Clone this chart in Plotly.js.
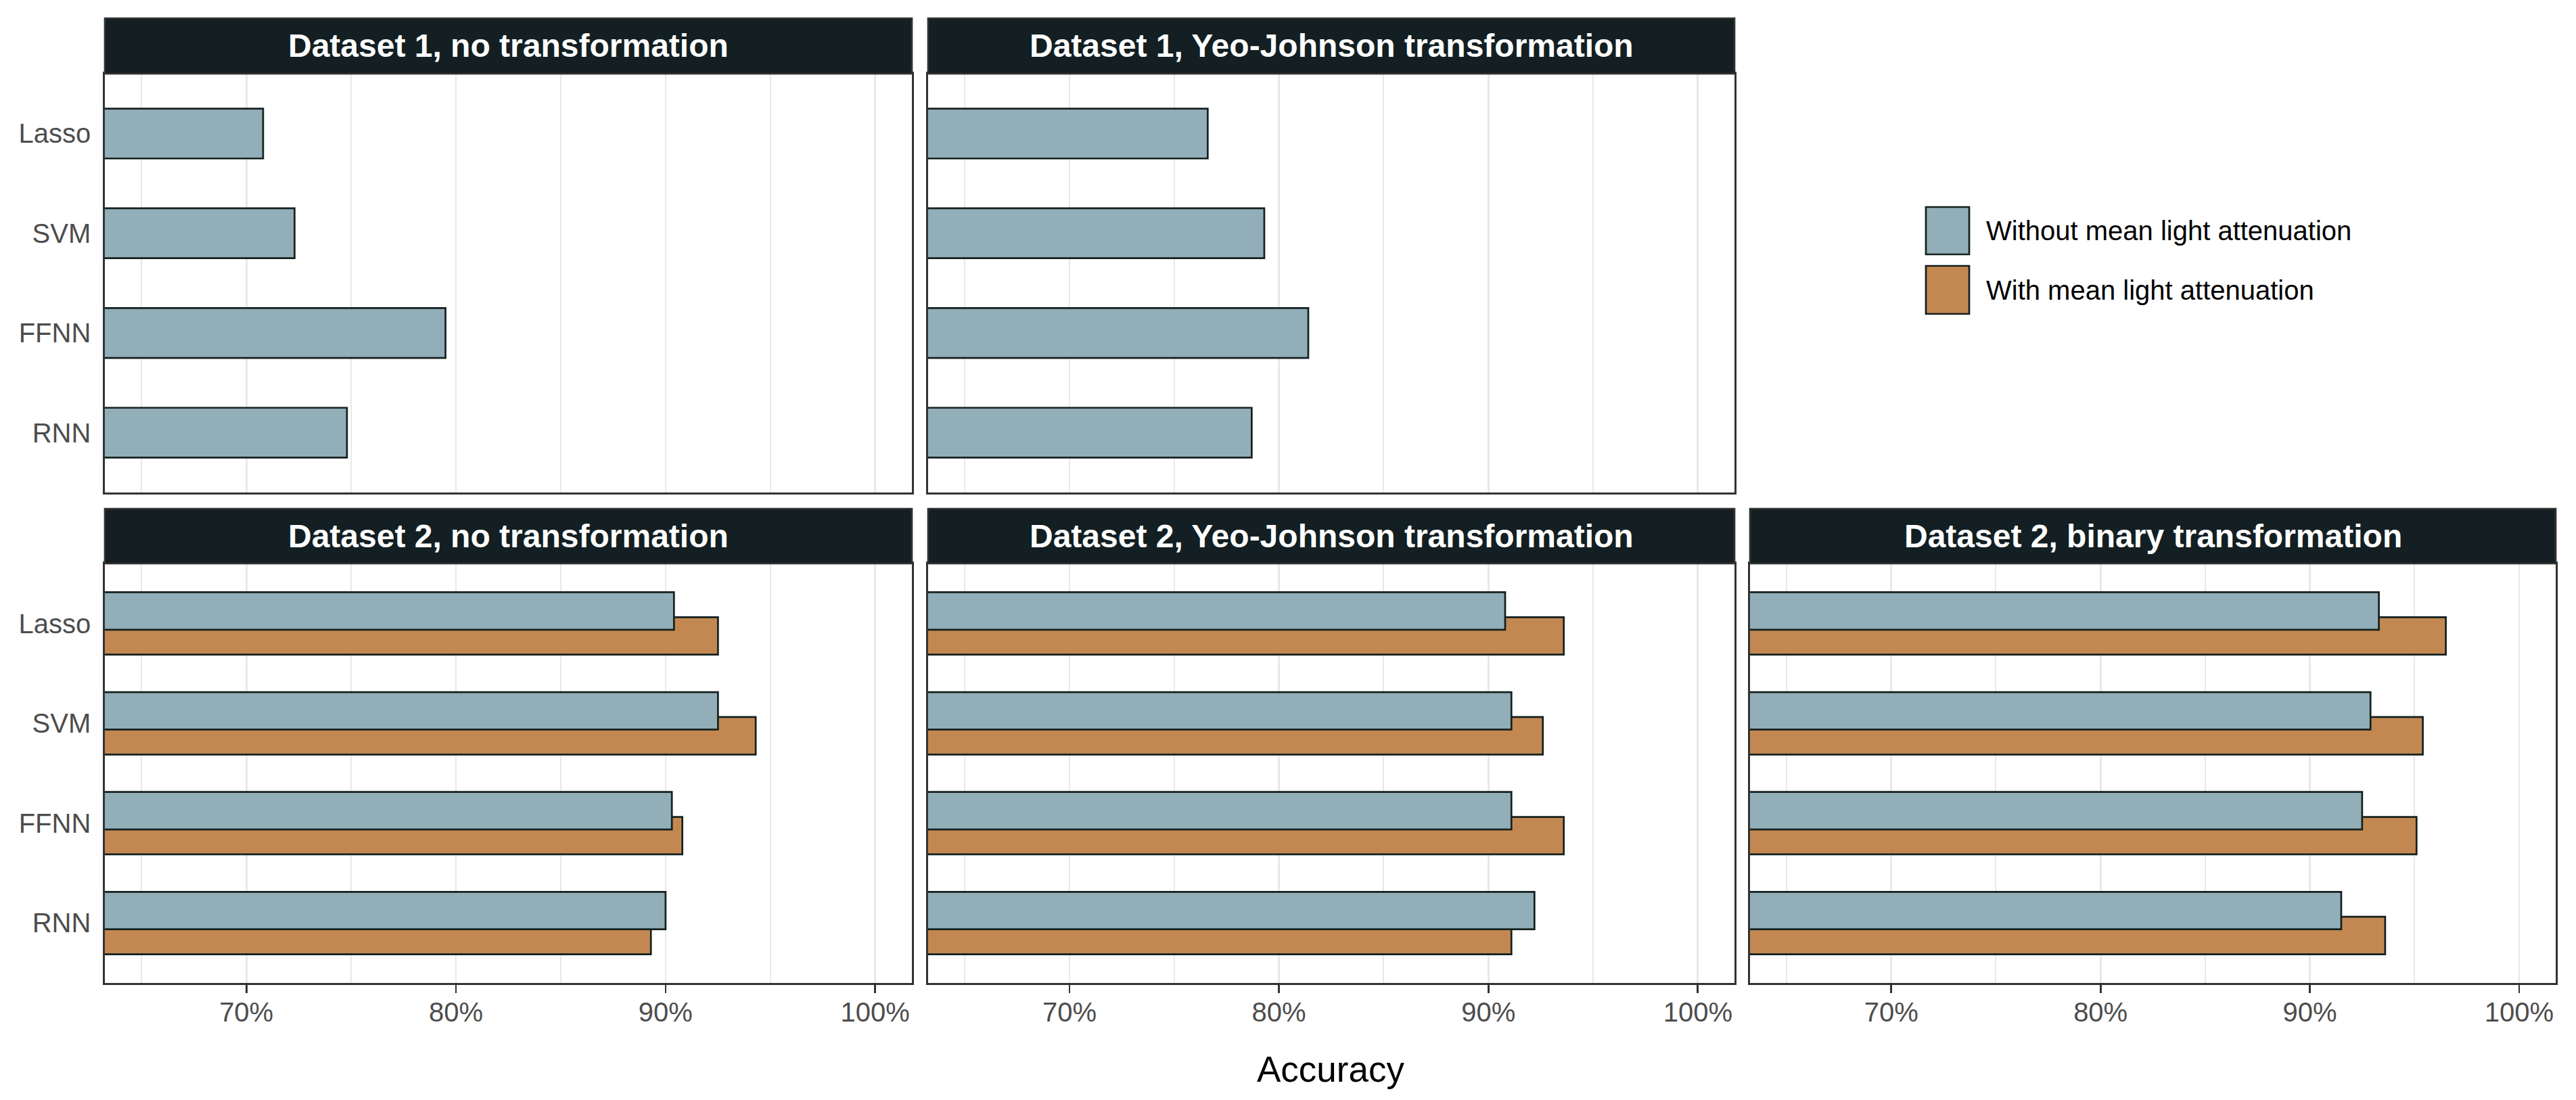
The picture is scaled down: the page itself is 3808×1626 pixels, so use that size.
<!DOCTYPE html>
<html>
<head>
<meta charset="utf-8">
<script src="https://cdn.plot.ly/plotly-3.0.1.min.js"></script>
<style>html,body{margin:0;padding:0;background:#fff;}#chart{width:3808px;height:1626px;}</style>
</head>
<body>
<div id="chart"></div>
<script>
// ---- data ----
const models = ['Lasso', 'SVM', 'FFNN', 'RNN'];
const seriesNames = ['Without mean light attenuation', 'With mean light attenuation'];
const seriesColors = ['#92AEB8', '#C38851'];
const panelTitles = [
  'Dataset 1, no transformation',
  'Dataset 1, Yeo-Johnson transformation',
  'Dataset 2, no transformation',
  'Dataset 2, Yeo-Johnson transformation',
  'Dataset 2, binary transformation'
];
const d1NoneWithout = [0.708, 0.723, 0.795, 0.748];
const d1YjWithout   = [0.766, 0.793, 0.814, 0.787];
const d2NoneWithout = [0.904, 0.925, 0.903, 0.900];
const d2NoneWith    = [0.925, 0.943, 0.908, 0.893];
const d2YjWithout   = [0.908, 0.911, 0.911, 0.922];
const d2YjWith      = [0.936, 0.926, 0.936, 0.911];
const d2BinWithout  = [0.933, 0.929, 0.925, 0.915];
const d2BinWith     = [0.965, 0.954, 0.951, 0.936];
const tickVals = [0.7, 0.8, 0.9, 1.0];
const tickText = ['70%', '80%', '90%', '100%'];

// ---- layout geometry (pixels of a 3808x1626 canvas) ----
const W = 3808, H = 1626;
const cols = [[155, 1348], [1372, 2564], [2587, 3778]];
const rows = [[109, 728], [833, 1453]];
const strips = [[27, 109], [752, 833]];
const px = v => v / W;
const py = v => 1 - v / H;

const panels = [
  {col: 0, row: 0, without: d1NoneWithout, withv: null},
  {col: 1, row: 0, without: d1YjWithout, withv: null},
  {col: 0, row: 1, without: d2NoneWithout, withv: d2NoneWith},
  {col: 1, row: 1, without: d2YjWithout, withv: d2YjWith},
  {col: 2, row: 1, without: d2BinWithout, withv: d2BinWith}
];

const borderCol = '#14201F';
const lineCol = '#333333';
const gridCol = '#E8E8E8';
const traces = [];
const layout = {
  width: W, height: H,
  margin: {l: 0, r: 0, t: 0, b: 0},
  paper_bgcolor: '#ffffff', plot_bgcolor: '#ffffff',
  barmode: 'overlay',
  showlegend: false,
  font: {family: 'Liberation Sans, Arial, sans-serif', color: '#4D4D4D', size: 40},
  shapes: [], annotations: []
};

panels.forEach((p, i) => {
  const n = i + 1;
  const xa = 'x' + (n === 1 ? '' : n), ya = 'y' + (n === 1 ? '' : n);
  const xk = 'xaxis' + (n === 1 ? '' : n), yk = 'yaxis' + (n === 1 ? '' : n);
  const dual = p.withv !== null;
  if (dual) {
    traces.push({type: 'bar', orientation: 'h', x: p.withv, y: models, xaxis: xa, yaxis: ya,
      name: seriesNames[1], width: 0.375, offset: -0.3125, opacity: 1,
      marker: {color: seriesColors[1], line: {color: borderCol, width: 2.7}}, hoverinfo: 'x+y'});
    traces.push({type: 'bar', orientation: 'h', x: p.without, y: models, xaxis: xa, yaxis: ya,
      name: seriesNames[0], width: 0.375, offset: -0.0625, opacity: 1,
      marker: {color: seriesColors[0], line: {color: borderCol, width: 2.7}}, hoverinfo: 'x+y'});
  } else {
    traces.push({type: 'bar', orientation: 'h', x: p.without, y: models, xaxis: xa, yaxis: ya,
      name: seriesNames[0], width: 0.5, offset: -0.25, opacity: 1,
      marker: {color: seriesColors[0], line: {color: borderCol, width: 2.7}}, hoverinfo: 'x+y'});
  }
  const c = cols[p.col], r = rows[p.row];
  const bottom = p.row === 1;
  layout[xk] = {
    domain: [px(c[0]), px(c[1])], anchor: ya, range: [0.6325, 1.0175],
    tickvals: tickVals, ticktext: tickText, showticklabels: bottom,
    ticks: bottom ? 'outside' : '', ticklen: 12, tickwidth: 2.7, tickcolor: lineCol,
    ticklabelstandoff: -6,
    tickfont: {size: 40, color: '#4D4D4D'},
    showgrid: true, gridcolor: gridCol, gridwidth: 2.7,
    minor: {tickvals: [0.65, 0.75, 0.85, 0.95], showgrid: true, gridcolor: gridCol, gridwidth: 2, ticks: ''},
    zeroline: false, showline: true, mirror: true, linecolor: lineCol, linewidth: 2.7,
    fixedrange: true
  };
  layout[yk] = {
    domain: [py(r[1]), py(r[0])], anchor: xa, type: 'category',
    categoryorder: 'array', categoryarray: models.slice().reverse(), range: [-0.6, 3.6],
    showticklabels: p.col === 0, ticks: '', ticklabelstandoff: 10,
    tickfont: {size: 40, color: '#4D4D4D'},
    showgrid: false, zeroline: false, showline: true, mirror: true, linecolor: lineCol, linewidth: 2.7,
    fixedrange: true
  };
  // strip
  const s = strips[p.row];
  layout.shapes.push({type: 'rect', xref: 'paper', yref: 'paper',
    x0: px(c[0]), x1: px(c[1]), y0: py(s[1]), y1: py(s[0]),
    fillcolor: '#131F22', line: {color: lineCol, width: 2.7}, layer: 'above'});
  layout.annotations.push({xref: 'paper', yref: 'paper', x: px((c[0] + c[1]) / 2), y: py((s[0] + s[1]) / 2),
    text: '<b>' + panelTitles[i] + '</b>', showarrow: false, xanchor: 'center', yanchor: 'middle',
    font: {size: 48, color: '#ffffff', family: 'Liberation Sans, Arial, sans-serif'}});
});

// axis title
layout.annotations.push({xref: 'paper', yref: 'paper', x: px((cols[0][0] + cols[2][1]) / 2), y: py(1580),
  text: 'Accuracy', showarrow: false, xanchor: 'center', yanchor: 'middle',
  font: {size: 53, color: '#000000'}});

// legend (drawn with shapes and text)
const keyX = [2847, 2911];
const keyY = [[306, 376], [393, 464]];
seriesNames.forEach((nm, k) => {
  layout.shapes.push({type: 'rect', xref: 'paper', yref: 'paper',
    x0: px(keyX[0]), x1: px(keyX[1]), y0: py(keyY[k][1]), y1: py(keyY[k][0]),
    fillcolor: seriesColors[k], line: {color: borderCol, width: 2.7}});
  layout.annotations.push({xref: 'paper', yref: 'paper', x: px(2934), y: py((keyY[k][0] + keyY[k][1]) / 2),
    text: nm, showarrow: false, xanchor: 'left', yanchor: 'middle',
    font: {size: 40, color: '#000000'}});
});

Plotly.newPlot('chart', traces, layout, {staticPlot: true, displayModeBar: false});
</script>
</body>
</html>
